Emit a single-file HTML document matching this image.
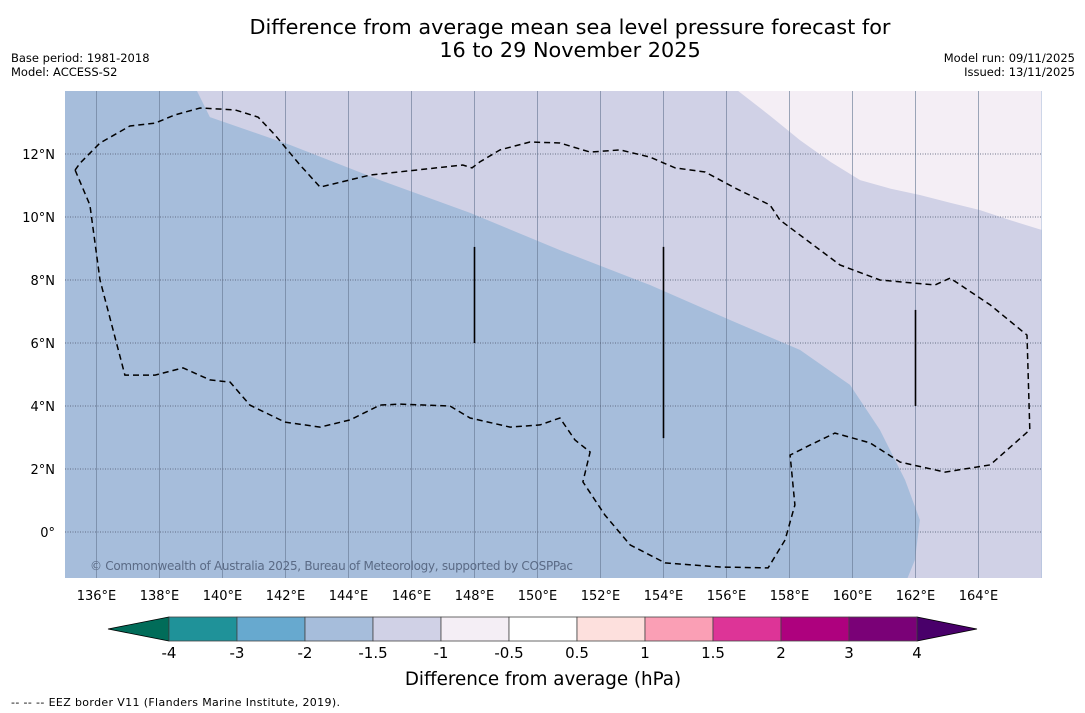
<!DOCTYPE html>
<html><head><meta charset="utf-8"><style>
body{margin:0;background:#fff;font-family:"DejaVu Sans","Liberation Sans",sans-serif}
svg{display:block}
</style></head><body>
<svg id="s" width="1085" height="713" font-family="DejaVu Sans, Liberation Sans, sans-serif">
<text x="570" y="34" font-size="20.8" text-anchor="middle">Difference from average mean sea level pressure forecast for</text>
<text x="570" y="57" font-size="20.8" text-anchor="middle">16 to 29 November 2025</text>
<text x="11" y="62" font-size="11.5">Base period: 1981-2018</text>
<text x="11" y="76" font-size="11.5">Model: ACCESS-S2</text>
<text x="1075" y="62" font-size="11.5" text-anchor="end">Model run: 09/11/2025</text>
<text x="1075" y="76" font-size="11.5" text-anchor="end">Issued: 13/11/2025</text>
<defs><clipPath id="mc"><rect x="65" y="91" width="977" height="487"/></clipPath></defs>
<g id="map" clip-path="url(#mc)"></g>
<g id="axes"></g>
<g id="cbar"></g>
<text x="543" y="685" font-size="18.3" text-anchor="middle">Difference from average (hPa)</text>
<text x="11" y="706" font-size="11" textLength="329">--  --  -- EEZ border V11 (Flanders Marine Institute, 2019).</text>
</svg>
<script>
const lonTicks=[136,138,140,142,144,146,148,150,152,154,156,158,160,162,164];
const latTicks=[12,10,8,6,4,2,0];
const cbLevels=[-4,-3,-2,-1.5,-1,-0.5,0.5,1,1.5,2,3,4];
const cbColors=["#1f9299","#67a9cf","#a6bddb","#d0d1e6","#f4eef5","#ffffff","#fde0dd","#fa9fb5","#dd3497","#ae017e","#7a0177"];
const cbLow="#016c59", cbHigh="#49006a";
const zoneMid=[[139.19,14],[139.60,13.17],[142.14,12.29],[145.0,11.17],[147.86,10.13],[150.71,8.95],[153.57,7.84],[156.11,6.73],[158.33,5.78],[159.92,4.67],[160.87,3.24],[161.67,1.65],[162.14,0.38],[161.98,-0.89],[161.73,-1.5],[166,-1.5],[166,14]];
const zoneHigh=[[156.37,14],[157.4,13.2],[158.33,12.44],[159.3,11.75],[160.24,11.17],[161.2,10.9],[162.14,10.70],[163.1,10.45],[164.05,10.22],[165,9.9],[166,9.59],[166,14]];
const eez=[[135.32,11.49],[135.79,10.38],[136.11,8.0],[136.90,4.98],[137.86,4.98],[138.75,5.21],[139.60,4.83],[140.24,4.76],[140.87,4.03],[141.98,3.49],[143.10,3.33],[144.05,3.56],[145.0,4.03],[145.63,4.06],[147.22,4.0],[147.86,3.62],[149.13,3.33],[150.08,3.40],[150.71,3.62],[151.19,2.92],[151.67,2.54],[151.44,1.59],[152.14,0.54],[152.94,-0.41],[154.05,-0.98],[155.79,-1.11],[157.32,-1.14],[157.86,-0.25],[158.17,0.86],[158.02,2.44],[158.65,2.76],[159.44,3.14],[160.56,2.83],[161.51,2.22],[162.94,1.90],[164.37,2.13],[165.63,3.24],[165.54,6.25],[164.37,7.21],[163.10,8.06],[162.62,7.84],[160.87,8.0],[159.60,8.48],[157.70,9.90],[157.38,10.38],[156.27,10.92],[155.32,11.43],[154.37,11.56],[153.57,11.90],[152.62,12.13],[151.67,12.06],[150.71,12.35],[149.76,12.38],[148.81,12.13],[148.17,11.75],[147.92,11.56],[147.63,11.65],[144.68,11.33],[143.10,10.95],[142.46,11.65],[141.67,12.60],[141.13,13.17],[140.40,13.40],[139.29,13.46],[138.49,13.24],[137.86,12.98],[137.06,12.89],[136.11,12.35],[135.48,11.71],[135.32,11.49]];
const segs=[[148,9.05,6.0],[154,9.05,2.98],[162,7.05,4.0]];
const NS="http://www.w3.org/2000/svg";
const X=lon=>65+(lon-135)*31.5, Y=lat=>91+(14-lat)*31.5;
function mk(t,a,p){const e=document.createElementNS(NS,t);for(const k in a)e.setAttribute(k,a[k]);p.appendChild(e);return e;}
const map=document.getElementById('map'),axes=document.getElementById('axes'),cb=document.getElementById('cbar');
let r=mk('rect',{x:65,y:91,width:977,height:487,fill:'#a6bddb'},map);


const pts=a=>a.map(p=>X(p[0]).toFixed(1)+','+Y(p[1]).toFixed(1)).join(' ');
let z1=mk('polygon',{points:pts(zoneMid),fill:'#d0d1e6'},map);


let z2=mk('polygon',{points:pts(zoneHigh),fill:'#f4eef5'},map);


lonTicks.forEach(l=>{let g=mk('line',{x1:X(l),x2:X(l),y1:91,y2:578,stroke:'#6a7a95','stroke-width':0.8,opacity:0.8},map);


let t=mk('text',{x:X(l),y:600,'font-size':13,'text-anchor':'middle'},axes);t.textContent=l+'°E';

});
latTicks.forEach(l=>{let g=mk('line',{x1:65,x2:1042,y1:Y(l),y2:Y(l),stroke:'#505a70','stroke-width':1,'stroke-dasharray':'1,1.5',opacity:0.8},map);


let t=mk('text',{x:55,y:Y(l)+5,'font-size':13,'text-anchor':'end'},axes);t.textContent=l===0?'0°':l+'°N';

});
let e=mk('polyline',{points:pts(eez),fill:'none',stroke:'#000','stroke-width':1.5,'stroke-dasharray':'6,4'},map);


segs.forEach(s=>{let l=mk('line',{x1:X(s[0]),x2:X(s[0]),y1:Y(s[1]),y2:Y(s[2]),stroke:'#000','stroke-width':1.6},map);

});
let c=mk('text',{x:90,y:570,'font-size':12,fill:'#5a6a85',textLength:483},map);c.textContent='© Commonwealth of Australia 2025, Bureau of Meteorology, supported by COSPPac';


const n=cbColors.length,cx0=169,cx1=917,cy=617,ch=24,w=(cx1-cx0)/n;
let lt=mk('polygon',{points:`108,629 ${cx0},${cy} ${cx0},${cy+ch}`,fill:cbLow,stroke:'#000','stroke-width':0.8},cb);


let ht=mk('polygon',{points:`977,629 ${cx1},${cy} ${cx1},${cy+ch}`,fill:cbHigh,stroke:'#000','stroke-width':0.8},cb);


cbColors.forEach((col,i)=>{let b=mk('rect',{x:cx0+i*w,y:cy,width:w,height:ch,fill:col,stroke:'#444','stroke-width':0.8},cb);

});
cbLevels.forEach((v,i)=>{let t=mk('text',{x:cx0+i*w,y:658,'font-size':15,'text-anchor':'middle'},cb);t.textContent=v;

});
</script>
</body></html>
